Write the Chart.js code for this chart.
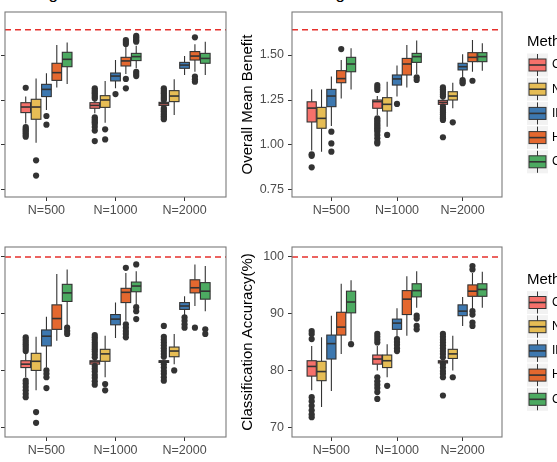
<!DOCTYPE html>
<html>
<head>
<meta charset="utf-8">
<script src="https://cdn.jsdelivr.net/npm/chart.js@4/dist/chart.umd.min.js"></script>
<style>
  body { margin: 0; width: 557px; height: 462px; overflow: hidden; position: relative; background: #fff; font-family: "Liberation Sans", Arial, sans-serif; }
  canvas { position: absolute; }
  .ttl { position: absolute; font-size: 17px; line-height: 17px; color: #000; white-space: nowrap; }
</style>
</head>
<body>
<div class="ttl" style="left:5px; top:-15px;">Setting 1</div>
<div class="ttl" style="left:292px; top:-15px;">Setting 2</div>
<canvas id="tl" width="287" height="231" style="left:-52px; top:0px;"></canvas>
<canvas id="tr" width="322" height="231" style="left:235px; top:0px;"></canvas>
<canvas id="bl" width="287" height="231" style="left:-52px; top:231px;"></canvas>
<canvas id="br" width="322" height="231" style="left:235px; top:231px;"></canvas>
<script>
// groups on the x axis, methods dodged inside each group
var groups = ['N=500', 'N=1000', 'N=2000'];
var methods = ['Causal tree', 'Naive', 'IPWE', 'Hybrid', 'Combined'];
var methodColors = ['#f6716b', '#e6bd55', '#3d78b0', '#e4682f', '#4caa61'];

var benefitTicks = [0.75, 1.00, 1.25, 1.50];
var accuracyTicks = [70, 80, 90, 100];
var benefitRef = 1.64;
var accuracyRef = 100;

// each array: 15 boxes, group by group, methods in order
// top left - overall mean benefit
var aQ1  = [1.180, 1.143, 1.269, 1.359, 1.435, 1.204, 1.209, 1.356, 1.439, 1.469, 1.220, 1.241, 1.426, 1.472, 1.454];
var aMed = [1.211, 1.211, 1.309, 1.402, 1.476, 1.220, 1.250, 1.383, 1.467, 1.491, 1.230, 1.272, 1.444, 1.494, 1.481];
var aQ3  = [1.235, 1.254, 1.337, 1.454, 1.515, 1.235, 1.274, 1.400, 1.487, 1.509, 1.237, 1.302, 1.459, 1.519, 1.509];
var aLo  = [1.120, 1.013, 1.194, 1.320, 1.339, 1.176, 1.124, 1.315, 1.394, 1.426, 1.213, 1.167, 1.389, 1.407, 1.389];
var aHi  = [1.270, 1.370, 1.398, 1.556, 1.569, 1.250, 1.356, 1.472, 1.546, 1.552, 1.245, 1.365, 1.494, 1.560, 1.574];
var aOut = [
  [1.318, 1.100, 1.090, 1.083, 1.075, 1.065, 1.055, 1.046],
  [0.915, 0.830],
  [1.161, 1.113],
  [],
  [],
  [1.315, 1.305, 1.296, 1.288, 1.278, 1.268, 1.259, 1.154, 1.145, 1.135, 1.126, 1.117, 1.100, 1.080, 1.022],
  [1.087, 1.031],
  [1.283],
  [1.583, 1.572, 1.561, 1.367, 1.315],
  [1.607, 1.598, 1.589, 1.580, 1.574, 1.407, 1.395, 1.383],
  [1.315, 1.305, 1.296, 1.287, 1.278, 1.268, 1.259, 1.250, 1.205, 1.196, 1.187, 1.178, 1.169, 1.160, 1.152, 1.143],
  [],
  [],
  [1.598, 1.380, 1.365, 1.352],
  []
];

// top right - overall mean benefit
var bQ1  = [1.128, 1.093, 1.213, 1.346, 1.407, 1.204, 1.189, 1.333, 1.389, 1.459, 1.226, 1.250, 1.417, 1.463, 1.463];
var bMed = [1.205, 1.148, 1.272, 1.369, 1.450, 1.241, 1.226, 1.367, 1.450, 1.491, 1.237, 1.272, 1.435, 1.487, 1.491];
var bQ3  = [1.240, 1.209, 1.309, 1.413, 1.487, 1.250, 1.263, 1.389, 1.481, 1.509, 1.248, 1.296, 1.454, 1.513, 1.513];
var bLo  = [0.970, 0.963, 1.106, 1.259, 1.309, 1.167, 1.102, 1.269, 1.320, 1.394, 1.217, 1.204, 1.365, 1.407, 1.413];
var bHi  = [1.310, 1.309, 1.380, 1.472, 1.537, 1.272, 1.352, 1.441, 1.556, 1.580, 1.259, 1.346, 1.504, 1.583, 1.565];
var bOut = [
  [0.948, 0.940, 0.876],
  [],
  [1.074, 1.009, 0.963],
  [1.533],
  [],
  [1.333, 1.320, 1.306, 1.148, 1.139, 1.130, 1.120, 1.111, 1.102, 1.093, 1.083, 1.074, 1.056, 1.037, 1.018, 1.009],
  [1.056],
  [1.228],
  [],
  [1.376, 1.361],
  [1.320, 1.310, 1.300, 1.290, 1.280, 1.270, 1.213, 1.200, 1.190, 1.180, 1.170, 1.157, 1.148, 1.139, 1.043],
  [1.126],
  [1.361, 1.352, 1.343],
  [1.357],
  []
];

// bottom left - classification accuracy
var cQ1  = [80.6, 80.1, 84.4, 87.3, 92.2, 81.2, 81.7, 88.1, 92.0, 93.9, 81.5, 82.5, 90.8, 93.7, 92.6];
var cMed = [81.2, 81.7, 86.1, 89.2, 93.7, 81.6, 83.0, 89.1, 93.8, 94.9, 81.7, 83.5, 91.4, 94.6, 94.0];
var cQ3  = [81.8, 83.1, 87.2, 91.6, 95.2, 81.8, 83.8, 89.9, 94.5, 95.6, 81.8, 84.2, 92.0, 96.0, 95.5];
var cLo  = [78.9, 76.6, 80.6, 85.3, 87.9, 81.0, 78.9, 85.8, 88.8, 91.7, 81.3, 81.2, 89.7, 91.4, 90.5];
var cHi  = [83.0, 86.0, 89.5, 97.0, 97.8, 82.2, 86.2, 92.0, 97.2, 97.5, 82.0, 86.5, 93.1, 98.7, 98.4];
var cOut = [
  [85.9, 85.5, 85.1, 84.7, 84.3, 83.9, 83.5, 78.3, 77.8, 77.2, 76.6, 76.0, 75.4],
  [72.8, 70.9],
  [80.1, 79.5, 78.9, 77.0],
  [],
  [87.6, 87.0, 86.5],
  [86.3, 85.9, 85.5, 85.0, 84.6, 84.2, 83.8, 83.4, 82.9, 82.4, 80.9, 80.4, 79.9, 79.3, 78.8, 78.2, 77.6],
  [77.7, 76.6],
  [],
  [98.1, 88.2, 87.6, 87.0, 86.5, 85.9],
  [98.7, 91.2, 90.5, 89.1],
  [87.9, 86.0, 85.5, 85.0, 84.5, 84.0, 83.5, 83.0, 82.5, 81.2, 80.6, 80.0, 79.5, 78.9, 78.3],
  [80.1],
  [89.4, 88.8, 88.2, 87.6],
  [87.6],
  [87.3, 86.5]
];

// bottom right - classification accuracy
var dQ1  = [79.1, 78.3, 82.1, 86.3, 90.2, 81.2, 80.6, 87.3, 89.9, 93.0, 81.4, 82.2, 89.7, 93.1, 93.1];
var dMed = [80.8, 79.9, 84.8, 87.7, 92.1, 82.1, 81.8, 88.4, 92.6, 94.1, 81.6, 83.0, 90.5, 94.0, 94.3];
var dQ3  = [81.8, 81.7, 86.3, 90.3, 94.0, 82.8, 82.8, 89.1, 94.1, 95.3, 81.8, 83.8, 91.6, 95.1, 95.3];
var dLo  = [76.6, 73.7, 76.5, 83.0, 85.3, 80.1, 78.9, 85.9, 86.2, 91.1, 81.3, 80.1, 87.9, 90.8, 91.1];
var dHi  = [84.4, 85.9, 89.7, 95.3, 95.9, 84.4, 84.7, 91.0, 96.6, 97.5, 81.9, 86.2, 93.0, 97.2, 97.4];
var dOut = [
  [87.0, 86.5, 85.6, 75.4, 74.7, 73.9, 73.1, 72.4, 71.9],
  [],
  [],
  [],
  [84.7],
  [86.5, 86.0, 85.5, 85.0, 78.9, 78.2, 77.6, 77.0, 76.3, 75.1],
  [77.4],
  [85.6, 85.1, 84.6, 84.0, 83.5],
  [],
  [89.7, 89.2, 87.9, 87.3],
  [86.5, 86.0, 85.5, 85.0, 84.5, 84.0, 83.5, 83.0, 82.4, 81.2, 80.6, 80.0, 79.5, 78.9, 75.7],
  [78.9],
  [],
  [98.4, 97.8, 90.5, 89.9, 88.5, 87.9],
  []
];

var DODGE = 0.15;
var BOXW = 0.14;
var FONT = '"Liberation Sans", Arial, sans-serif';

function boxPos(i) {
  var g = Math.floor(i / 5), m = i % 5;
  return g + 1 + (m - 2) * DODGE;
}

var boxPlugin = {
  id: 'boxes',
  beforeDatasetsDraw: function (chart) {
    var o = chart.options.plugins.boxes;
    var ctx = chart.ctx, a = chart.chartArea, x = chart.scales.x, y = chart.scales.y;
    ctx.save();
    // reference line
    var ry = y.getPixelForValue(o.ref);
    ctx.strokeStyle = '#e6302c';
    ctx.lineWidth = 1.6;
    ctx.setLineDash([6, 4]);
    ctx.beginPath();
    ctx.moveTo(a.left, ry);
    ctx.lineTo(a.right, ry);
    ctx.stroke();
    ctx.setLineDash([]);

    for (var i = 0; i < o.q1.length; i++) {
      var p = boxPos(i);
      var cx = x.getPixelForValue(p);
      var l = x.getPixelForValue(p - BOXW / 2), r = x.getPixelForValue(p + BOXW / 2);
      var yq1 = y.getPixelForValue(o.q1[i]), yq3 = y.getPixelForValue(o.q3[i]);
      ctx.strokeStyle = '#333';
      ctx.lineWidth = 1.1;
      ctx.beginPath();
      ctx.moveTo(cx, y.getPixelForValue(o.hi[i]));
      ctx.lineTo(cx, yq3);
      ctx.moveTo(cx, yq1);
      ctx.lineTo(cx, y.getPixelForValue(o.lo[i]));
      ctx.stroke();
      ctx.fillStyle = methodColors[i % 5];
      ctx.fillRect(l, yq3, r - l, yq1 - yq3);
      ctx.strokeRect(l, yq3, r - l, yq1 - yq3);
      var ym = y.getPixelForValue(o.med[i]);
      ctx.lineWidth = 1.6;
      ctx.beginPath();
      ctx.moveTo(l, ym);
      ctx.lineTo(r, ym);
      ctx.stroke();
    }
    ctx.restore();
  },
  afterDraw: function (chart) {
    var o = chart.options.plugins.boxes;
    var ctx = chart.ctx, a = chart.chartArea;
    ctx.save();
    ctx.strokeStyle = '#7a7a7a';
    ctx.lineWidth = 1.1;
    ctx.strokeRect(a.left, a.top, a.right - a.left, a.bottom - a.top);

    if (o.legend) {
      var mid = (a.top + a.bottom) / 2;
      var lx = a.right + 25;
      ctx.fillStyle = '#000';
      ctx.font = '15px ' + FONT;
      ctx.textBaseline = 'middle';
      ctx.fillText('Method', lx, mid - 62.5);
      for (var k = 0; k < methods.length; k++) {
        var ky = mid - 39.5 + k * 24.2;
        ctx.fillStyle = '#f2f2f2';
        ctx.fillRect(lx, ky - 11.5, 21, 23);
        ctx.strokeStyle = '#333';
        ctx.lineWidth = 1;
        ctx.beginPath();
        ctx.moveTo(lx + 10.5, ky - 11);
        ctx.lineTo(lx + 10.5, ky + 11);
        ctx.stroke();
        ctx.fillStyle = methodColors[k];
        ctx.fillRect(lx + 2, ky - 6, 17, 12);
        ctx.strokeRect(lx + 2, ky - 6, 17, 12);
        ctx.lineWidth = 1.6;
        ctx.beginPath();
        ctx.moveTo(lx + 2, ky);
        ctx.lineTo(lx + 19, ky);
        ctx.stroke();
        ctx.fillStyle = '#000';
        ctx.font = '12px ' + FONT;
        ctx.fillText(methods[k], lx + 25, ky);
      }
    }
    ctx.restore();
  }
};

function makePanel(id, q1, med, q3, lo, hi, outs, cfg) {
  var pts = [];
  for (var i = 0; i < outs.length; i++) {
    for (var j = 0; j < outs[i].length; j++) {
      pts.push({ x: boxPos(i), y: outs[i][j] });
    }
  }
  return new Chart(document.getElementById(id), {
    type: 'scatter',
    data: {
      datasets: [{
        data: pts,
        pointRadius: 3.1,
        pointHoverRadius: 3.1,
        pointBackgroundColor: '#333',
        pointBorderWidth: 0
      }]
    },
    options: {
      responsive: false,
      animation: false,
      layout: { padding: { top: cfg.padTop, right: cfg.padRight, left: 0, bottom: 0 } },
      plugins: {
        legend: { display: false },
        tooltip: { enabled: false },
        boxes: { q1: q1, med: med, q3: q3, lo: lo, hi: hi, ref: cfg.ref, legend: cfg.legend }
      },
      scales: {
        x: {
          type: 'linear',
          min: 0.4,
          max: 3.6,
          afterBuildTicks: function (s) { s.ticks = groups.map(function (g, k) { return { value: k + 1 }; }); },
          afterFit: function (s) { s.height = cfg.xHeight; },
          ticks: {
            color: '#4d4d4d',
            font: { size: 12.5, family: FONT },
            padding: 2,
            maxRotation: 0,
            callback: function (v) { return groups[Math.round(v) - 1]; }
          },
          grid: { drawOnChartArea: false, tickLength: 4, color: '#333' },
          border: { display: false }
        },
        y: {
          min: cfg.yMin,
          max: cfg.yMax,
          afterBuildTicks: function (s) { s.ticks = cfg.ticks.map(function (v) { return { value: v }; }); },
          afterFit: function (s) { s.width = 57; },
          ticks: {
            color: '#4d4d4d',
            font: { size: 12.5, family: FONT },
            padding: 4,
            callback: cfg.fmt
          },
          grid: { drawOnChartArea: false, tickLength: 4, color: '#333' },
          border: { display: false },
          title: {
            display: true,
            text: cfg.title,
            color: '#000',
            font: { size: 15, family: FONT },
            padding: { top: 4, bottom: 0 }
          }
        }
      }
    },
    plugins: [boxPlugin]
  });
}

var fmtBenefit = function (v) { return v.toFixed(2); };
var fmtAcc = function (v) { return String(v); };

makePanel('tl', aQ1, aMed, aQ3, aLo, aHi, aOut, {
  padTop: 12, padRight: 9, xHeight: 34, yMin: 0.7111, yMax: 1.7389, ticks: benefitTicks,
  ref: benefitRef, title: 'Overall Mean Benefit', fmt: fmtBenefit, legend: false
});
makePanel('tr', bQ1, bMed, bQ3, bLo, bHi, bOut, {
  padTop: 12, padRight: 55, xHeight: 34, yMin: 0.7111, yMax: 1.7389, ticks: benefitTicks,
  ref: benefitRef, title: 'Overall Mean Benefit', fmt: fmtBenefit, legend: true
});
makePanel('bl', cQ1, cMed, cQ3, cLo, cHi, cOut, {
  padTop: 16, padRight: 9, xHeight: 25, yMin: 68.42, yMax: 101.75, ticks: accuracyTicks,
  ref: accuracyRef, title: 'Classification Accuracy(%)', fmt: fmtAcc, legend: false
});
makePanel('br', dQ1, dMed, dQ3, dLo, dHi, dOut, {
  padTop: 16, padRight: 55, xHeight: 25, yMin: 68.42, yMax: 101.75, ticks: accuracyTicks,
  ref: accuracyRef, title: 'Classification Accuracy(%)', fmt: fmtAcc, legend: true
});
</script>
</body>
</html>
